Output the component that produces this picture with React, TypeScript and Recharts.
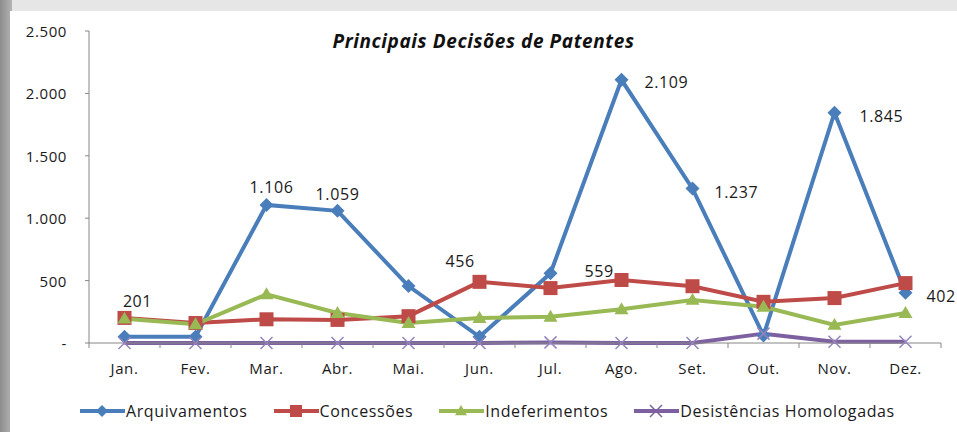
import React from 'react';
import { LineChart, Line, XAxis, YAxis, LabelList } from 'recharts';

const months = ['Jan.', 'Fev.', 'Mar.', 'Abr.', 'Mai.', 'Jun.', 'Jul.', 'Ago.', 'Set.', 'Out.', 'Nov.', 'Dez.'];
const arquivamentos = [50, 50, 1106, 1059, 456, 50, 559, 2109, 1237, 60, 1845, 402];
const concessoes = [201, 160, 190, 185, 215, 490, 440, 505, 455, 330, 360, 480];
const indeferimentos = [195, 150, 390, 240, 160, 200, 210, 270, 345, 290, 145, 240];
const desistencias = [0, 0, 0, 0, 0, 0, 5, 0, 0, 75, 10, 10];
const yTicks = [0, 500, 1000, 1500, 2000, 2500];

// which points carry a value label
const arqLabelIdx = [2, 3, 4, 6, 7, 8, 10, 11];
const conLabelIdx = [0];

const data = months.map((m, i) => ({
  x: i + 0.5,
  month: m,
  arq: arquivamentos[i],
  con: concessoes[i],
  ind: indeferimentos[i],
  des: desistencias[i],
}));

const xTicks: number[] = [];
for (let i = 0; i <= 24; i++) xTicks.push(i / 2);

const BLUE = '#4A7EBB';
const RED = '#BE4B48';
const GREEN = '#98B954';
const PURPLE = '#7D60A0';
const FONT = '"Open Sans", "Noto Sans", sans-serif';
const INK = '#1a1a1a';

const fmt = (v: number) => (v === 0 ? '-' : v.toLocaleString('de-DE'));

const Diamond = ({ cx, cy, color, s = 7 }: any) =>
  cx == null ? null : (
    <polygon points={`${cx},${cy - s} ${cx + s},${cy} ${cx},${cy + s} ${cx - s},${cy}`} fill={color} />
  );
const Square = ({ cx, cy, color, s = 7 }: any) =>
  cx == null ? null : <rect x={cx - s} y={cy - s} width={s * 2} height={s * 2} fill={color} />;
const Triangle = ({ cx, cy, color, s = 7 }: any) =>
  cx == null ? null : (
    <polygon points={`${cx},${cy - s} ${cx + s},${cy + s * 0.7} ${cx - s},${cy + s * 0.7}`} fill={color} />
  );
const Cross = ({ cx, cy, color, s = 6 }: any) =>
  cx == null ? null : (
    <g stroke={color} strokeWidth={1.5}>
      <line x1={cx - s} y1={cy - s} x2={cx + s} y2={cy + s} />
      <line x1={cx - s} y1={cy + s} x2={cx + s} y2={cy - s} />
    </g>
  );

const labelStyle: Record<number, { dx: number; dy: number; anchor: 'start' | 'middle' }> = {
  2: { dx: 5, dy: -12, anchor: 'middle' },
  3: { dx: 0, dy: -11, anchor: 'middle' },
  4: { dx: 37, dy: -19, anchor: 'start' },
  6: { dx: 34, dy: 4, anchor: 'start' },
  7: { dx: 23, dy: 8, anchor: 'start' },
  8: { dx: 22, dy: 9, anchor: 'start' },
  10: { dx: 25, dy: 9, anchor: 'start' },
  11: { dx: 21, dy: 9, anchor: 'start' },
};

const textProps = { fontSize: 16, fill: INK, fontFamily: FONT, letterSpacing: 0.6 };

const ArqLabel = (props: any) => {
  const { x, y, value, index } = props;
  if (!arqLabelIdx.includes(index)) return null;
  const st = labelStyle[index];
  return (
    <text x={x + st.dx} y={y + st.dy} textAnchor={st.anchor} {...textProps}>
      {fmt(value)}
    </text>
  );
};

const ConLabel = (props: any) => {
  const { x, y, value, index } = props;
  if (!conLabelIdx.includes(index)) return null;
  return (
    <text x={x + 13} y={y - 11} textAnchor="middle" {...textProps}>
      {fmt(value)}
    </text>
  );
};

const XTick = (props: any) => {
  const { x, y, payload } = props;
  const v = payload.value;
  if (Number.isInteger(v)) {
    return <line x1={x} y1={y} x2={x} y2={y + 5} stroke="#868686" />;
  }
  const m = months[Math.floor(v)];
  return (
    <text x={x} y={y + 31} textAnchor="middle" {...textProps} fontSize={15}>
      {m}
    </text>
  );
};

const YTick = (props: any) => {
  const { x, y, payload } = props;
  return (
    <text x={x} y={y + 6} textAnchor="end" {...textProps} fontSize={15}>
      {fmt(payload.value)}
    </text>
  );
};

const legendItems = [
  { name: 'Arquivamentos', color: BLUE, Marker: Diamond },
  { name: 'Concessões', color: RED, Marker: Square },
  { name: 'Indeferimentos', color: GREEN, Marker: Triangle },
  { name: 'Desistências Homologadas', color: PURPLE, Marker: Cross },
];

const ChartLegend = () => (
  <div
    style={{
      position: 'absolute',
      left: 70,
      top: 389,
      display: 'flex',
      gap: 26,
      fontFamily: FONT,
      fontSize: 16,
      letterSpacing: 0.6,
      color: INK,
      lineHeight: '22px',
    }}
  >
    {legendItems.map(({ name, color, Marker }) => (
      <div key={name} style={{ display: 'flex', alignItems: 'center' }}>
        <svg width={45} height={16}>
          <line x1={0} y1={8} x2={45} y2={8} stroke={color} strokeWidth={4} />
          <Marker cx={22} cy={8} color={color} s={6} />
        </svg>
        <span style={{ marginLeft: 1 }}>{name}</span>
      </div>
    ))}
  </div>
);

export default function App() {
  return (
    <div style={{ position: 'absolute', left: 0, top: 0, width: 957, height: 432, background: '#e6e6e6', overflow: 'hidden' }}>
      <div style={{ position: 'absolute', left: 0, top: 0, width: 12, height: 432, background: 'linear-gradient(to right, #8c8c8c, #b4b4b4)' }} />
      <div style={{ position: 'absolute', left: 10, top: 11, width: 947, height: 421, background: '#ffffff' }}>
        <div
          style={{
            position: 'absolute',
            left: 0,
            width: 947,
            top: 17,
            textAlign: 'center',
            fontFamily: FONT,
            fontWeight: 'bold',
            fontStyle: 'italic',
            fontSize: 19,
            letterSpacing: 0.6,
            color: '#111',
            zIndex: 1,
          }}
        >
          Principais Decisões de Patentes
        </div>
        <LineChart width={947} height={421} data={data} margin={{ top: 20, right: 16, left: 0, bottom: 59 }}>
          <XAxis
            dataKey="x"
            type="number"
            domain={[0, 12]}
            ticks={xTicks}
            interval={0}
            tick={<XTick />}
            tickLine={false}
            tickSize={0}
            tickMargin={0}
            stroke="#868686"
            height={30}
          />
          <YAxis
            domain={[0, 2500]}
            ticks={yTicks}
            width={79}
            tickSize={4}
            tickMargin={18}
            stroke="#868686"
            tick={<YTick />}
          />
          <Line dataKey="arq" name="Arquivamentos" stroke={BLUE} strokeWidth={4} isAnimationActive={false}
            dot={(p: any) => <Diamond key={p.index} cx={p.cx} cy={p.cy} color={BLUE} />}>
            <LabelList dataKey="arq" content={<ArqLabel />} />
          </Line>
          <Line dataKey="con" name="Concessões" stroke={RED} strokeWidth={4} isAnimationActive={false}
            dot={(p: any) => <Square key={p.index} cx={p.cx} cy={p.cy} color={RED} />}>
            <LabelList dataKey="con" content={<ConLabel />} />
          </Line>
          <Line dataKey="ind" name="Indeferimentos" stroke={GREEN} strokeWidth={4} isAnimationActive={false}
            dot={(p: any) => <Triangle key={p.index} cx={p.cx} cy={p.cy} color={GREEN} />} />
          <Line dataKey="des" name="Desistências Homologadas" stroke={PURPLE} strokeWidth={4} isAnimationActive={false}
            dot={(p: any) => <Cross key={p.index} cx={p.cx} cy={p.cy} color="#9483BC" />} />
        </LineChart>
        <ChartLegend />
      </div>
    </div>
  );
}
